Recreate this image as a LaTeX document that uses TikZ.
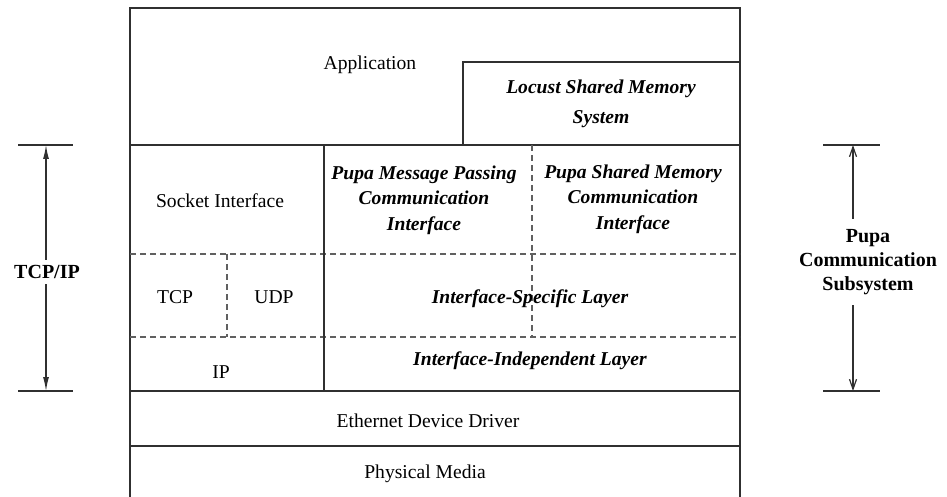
\documentclass[tikz,border=0pt]{standalone}
\usepackage{fontspec}
\setmainfont{Liberation Serif}
\usetikzlibrary{arrows.meta}
\definecolor{lineGray}{HTML}{303030}
\definecolor{dashGray}{HTML}{606060}

\begin{document}
\begin{tikzpicture}[x=0.5pt, y=-0.5pt,
      ln/.style={draw=lineGray, line width=0.6pt},
      dl/.style={draw=dashGray, line width=0.6pt, dash pattern=on 3pt off 2pt},
      lbl/.style={align=center, inner sep=0pt, font=\fontsize{9.8}{12.8}\selectfont},
      bi/.style={align=center, inner sep=0pt, font=\fontsize{9.8}{12.8}\selectfont\bfseries\itshape},
      side/.style={align=center, inner xsep=0pt, font=\fontsize{10}{12}\selectfont\bfseries}]
    \useasboundingbox (0,0) rectangle (947,497);
    % layer frame
    \draw[ln] (130,497) -- (130,8) -- (740,8) -- (740,497);
    \draw[ln] (463,145) -- (463,62) -- (740,62);
    \foreach \y in {145,391,446}
      {\draw[ln] (130,\y) -- (740,\y);}
    \foreach \y in {254,337}
      {\draw[dl] (130,\y) -- (740,\y);}
    \draw[ln] (324,145) -- (324,391);
    \draw[dl] (532,145) -- (532,337);
    \draw[dl] (227,254) -- (227,337);
    % layer labels
    \node[lbl] (app) at (370,65)  {Application};
    \node[bi]  (lsm) at (601,104) {Locust Shared Memory\\[2.5pt]System};
    \node[lbl] (sock) at (220,201) {Socket Interface};
    \node[bi]  (pmp) at (424,200) {Pupa Message Passing\\Communication\\Interface};
    \node[bi]  (psm) at (633,199) {Pupa Shared Memory\\Communication\\Interface};
    \node[lbl] (tcp) at (175,297) {TCP};
    \node[lbl] (udp) at (274,297) {UDP};
    \node[bi]  (isl) at (530,299) {Interface-Specific Layer};
    \node[lbl] (ip)  at (221,372) {IP};
    \node[bi]  (iil) at (530,361) {Interface-Independent Layer};
    \node[lbl] (eth) at (428,421) {Ethernet Device Driver};
    \node[lbl] (phy) at (425,474) {Physical Media};
    % side brackets
    \foreach \y in {145,391}
      {\draw[ln] (18,\y) -- (73,\y);
       \draw[ln] (823,\y) -- (880,\y);}
    \coordinate (tcpTop) at (46,145);
    \coordinate (tcpBot) at (46,391);
    \coordinate (pcsTop) at (853,145);
    \coordinate (pcsBot) at (853,391);
    \node[side, inner ysep=2.5pt] (tcpip) at (47,272) {TCP/IP};
    \node[side, inner ysep=5pt] (pcs) at (868,262) {Pupa\\Communication\\Subsystem};
    \draw[ln, -{Latex[length=7pt,width=3pt]}] (tcpip.north -| tcpTop) -- (tcpTop);
    \draw[ln, -{Latex[length=7pt,width=3pt]}] (tcpip.south -| tcpBot) -- (tcpBot);
    \draw[ln, -{Straight Barb[length=5pt,width=3.5pt]}] (pcs.north -| pcsTop) -- (pcsTop);
    \draw[ln, -{Straight Barb[length=5pt,width=3.5pt]}] (pcs.south -| pcsBot) -- (pcsBot);
  \end{tikzpicture}
\end{document}
